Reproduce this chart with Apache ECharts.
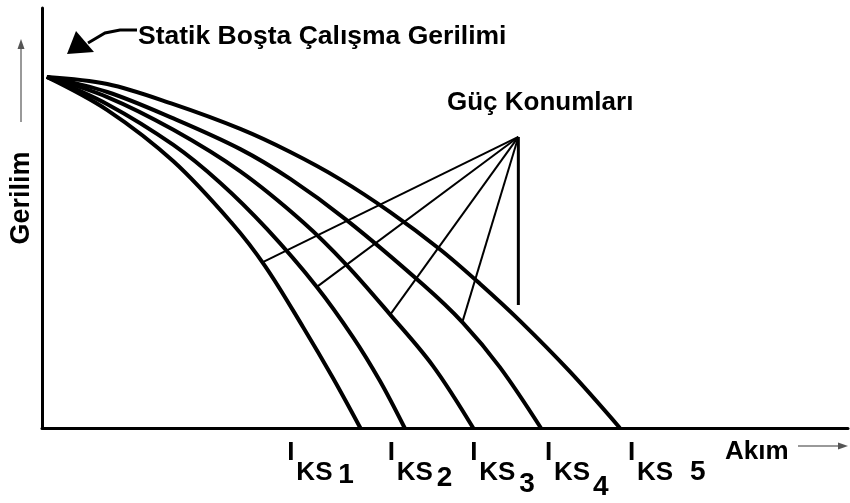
<!DOCTYPE html>
<html>
<head>
<meta charset="utf-8">
<script src="https://cdn.jsdelivr.net/npm/echarts@6/dist/echarts.min.js"></script>
<style>
  html, body { margin: 0; padding: 0; background: #fff; }
  #chart { width: 850px; height: 503px; }
</style>
</head>
<body>
<div id="chart"></div>
<script>
// Voltage (Gerilim) vs current (Akım) characteristics, one curve per power setting.
// Units are relative: 0–100 on both axes.
const curve1 = [[0.6, 83.6], [8.1, 75.7], [16.3, 63.5], [23.6, 48.7], [27.7, 38.5], [32.4, 24.0], [36.1, 11.9], [39.5, 0]];
const curve2 = [[0.6, 83.6], [8.1, 77.1], [16.3, 67.4], [22.1, 58.4], [27.9, 47.4], [34.1, 33.6], [38.6, 21.6], [41.9, 11.3], [45.0, 0]];
const curve3 = [[0.6, 83.6], [8.1, 78.8], [16.3, 71.0], [24.6, 61.1], [32.4, 49.0], [37.8, 38.8], [43.2, 27.0], [48.5, 14.8], [53.5, 0]];
const curve4 = [[0.6, 83.6], [8.1, 80.0], [16.3, 73.7], [24.6, 66.4], [30.8, 59.3], [37.8, 49.5], [47.3, 34.1], [52.2, 25.1], [56.8, 14.5], [61.9, 0]];
const curve5 = [[0.6, 83.6], [8.1, 81.9], [16.3, 77.1], [24.6, 71.2], [30.8, 65.7], [37.0, 59.2], [43.2, 51.4], [49.4, 42.5], [54.3, 34.4], [59.3, 25.5], [65.5, 13.4], [71.7, 0]];
const curves = [curve1, curve2, curve3, curve4, curve5];

// Short-circuit current labels, one per curve (I_KS n)
const ksIndex = ['1', '2', '3', '4', '5'];

// Leader lines of the "Güç Konumları" callout
const leaderHub = [59.1, 69.3];
const leaderEnds = [[27.4, 39.5], [34.1, 33.6], [43.2, 27.0], [52.2, 25.5], [59.1, 29.3]];

// Texts
const titleNoLoad = 'Statik Boşta Çalışma Gerilimi';
const titlePower = 'Güç Konumları';
const xName = 'Akım';
const yName = 'Gerilim';

// Label layout (pixels): horizontal shift of each I_KS label from its curve end,
// gap between "KS" and the digit, digit vertical centre
const labelShift = [-73, -17, -3, 4, 8];
const digitGap = [42, 40, 40, 39, 53];
const digitY = [475, 478, 484, 487, 472];

const FONT = '"Liberation Sans", Arial, Helvetica, sans-serif';

const chart = echarts.init(document.getElementById('chart'), null, { renderer: 'canvas' });

const axisCommon = {
  type: 'value', min: 0, max: 100,
  axisLine: { show: true, onZero: false, lineStyle: { color: '#000', width: 3 } },
  axisTick: { show: false }, axisLabel: { show: false }, splitLine: { show: false }
};

const series = curves.map((c, i) => ({
  type: 'line', name: 'KS' + ksIndex[i], data: c, smooth: 0.35, showSymbol: false,
  lineStyle: { color: '#000', width: 4 }, z: 3
}));
leaderEnds.forEach((e, i) => {
  series.push({
    type: 'line', data: [leaderHub, e], showSymbol: false,
    lineStyle: { color: '#000', width: i === leaderEnds.length - 1 ? 3 : 2 }, z: 2
  });
});

chart.setOption({
  animation: false,
  backgroundColor: '#fff',
  grid: { left: 42, right: 2, top: 8, bottom: 75 },
  xAxis: axisCommon,
  yAxis: axisCommon,
  series: series
});

function txt(text, x, y, size, opts) {
  return Object.assign({
    type: 'text', x: x, y: y, z: 10,
    style: Object.assign({
      text: text, fill: '#000', fontSize: size, fontWeight: 'bold', fontFamily: FONT,
      align: 'left', verticalAlign: 'middle'
    }, (opts && opts.style) || {})
  }, (opts && opts.el) || {});
}

const graphics = [];

// Title texts
graphics.push(txt(titleNoLoad, 138, 37, 26, { el: { scaleX: 1.02 } }));
graphics.push(txt(titlePower, 447, 103, 26));
graphics.push(txt(xName, 725, 452, 26));
graphics.push(txt(yName, 22, 198, 27, { style: { align: 'center' }, el: { rotation: Math.PI / 2 } }));

// Arrow pointing at the no-load voltage
graphics.push({
  type: 'polyline', z: 10,
  shape: { points: [[137, 30], [120, 30], [105, 33], [88, 43]] },
  style: { stroke: '#000', lineWidth: 3, fill: null }
});
graphics.push({
  type: 'polygon', z: 10,
  shape: { points: [[67, 54], [76, 31], [94, 52]] },
  style: { fill: '#000' }
});

// Axis direction arrows (grey)
graphics.push({ type: 'line', z: 10, shape: { x1: 21, y1: 122, x2: 21, y2: 46 }, style: { stroke: '#999', lineWidth: 2 } });
graphics.push({ type: 'polygon', z: 10, shape: { points: [[21, 39], [17.5, 49], [24.5, 49]] }, style: { fill: '#555' } });
graphics.push({ type: 'line', z: 10, shape: { x1: 798, y1: 446, x2: 840, y2: 446 }, style: { stroke: '#999', lineWidth: 2 } });
graphics.push({ type: 'polygon', z: 10, shape: { points: [[848, 446], [838, 442.5], [838, 449.5]] }, style: { fill: '#555' } });

// I_KS labels under the end of each curve
curves.forEach((c, i) => {
  const end = c[c.length - 1];
  const p = chart.convertToPixel({ gridIndex: 0 }, end);
  const x0 = p[0] + labelShift[i];
  graphics.push(txt('I', x0, 453, 26));
  graphics.push(txt('KS', x0 + 9, 473, 26));
  graphics.push(txt(ksIndex[i], x0 + 9 + digitGap[i], digitY[i], 28));
});

chart.setOption({ graphic: graphics });
</script>
</body>
</html>
